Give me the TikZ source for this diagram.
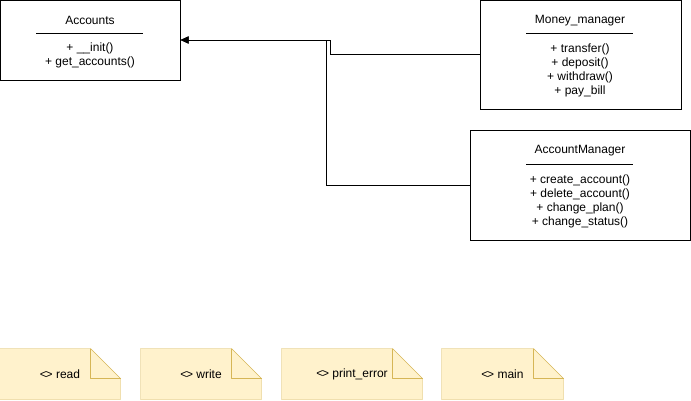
\documentclass[tikz,border=0pt]{standalone}
\usepackage{fontspec}
\setmainfont{Liberation Sans}
\usetikzlibrary{arrows.meta, backgrounds}
\definecolor{notefill}{HTML}{FFF2CC}
\definecolor{noteline}{HTML}{D6B656}
\newcommand{\fnmark}{<\kern-1.2pt>}
\begin{document}
\begin{tikzpicture}[x=1pt, y=-1pt, line width=1pt,
    every node/.style={font=\fontsize{12}{14}\selectfont, inner sep=0pt, align=center},
    classbox/.style={draw, fill=white},
    notebox/.style={minimum height=50pt},
    noteshape/.style={draw=noteline, fill=notefill, line join=round},
    inherit/.style={-{Triangle[length=8pt, width=7pt]}}]
\useasboundingbox (0, 0) rectangle (691, 400);

\node[classbox, minimum width=180pt, minimum height=80pt] (acc) at (90, 40) {};
\node (acct) at (90, 20) {Accounts};
\draw (36, 33.5) -- (143, 33.5);
\node (accm) at (90, 55) {+ \_\_init()\\+ get\_accounts()};

\node[classbox, minimum width=201pt, minimum height=109pt] (mm) at (580.5, 54.5) {};
\node (mmt) at (580, 20.5) {Money\_manager};
\draw (526, 33.5) -- (633, 33.5);
\node (mmm) at (580, 70.5) {+ transfer()\\+ deposit()\\+ withdraw()\\+ pay\_bill};

\node[classbox, minimum width=220pt, minimum height=110pt] (am) at (580, 185) {};
\node (amt) at (580, 150.5) {AccountManager};
\draw (526, 164) -- (633, 164);
\node (amm) at (580, 201) {+ create\_account()\\+ delete\_account()\\+ change\_plan()\\+ change\_status()};

\coordinate (j1) at (330, 40);
\coordinate (j2) at (326, 40);

\draw[inherit] (mm.west) -| (j1) -- (acc.east);
\draw[inherit] (am.west) -| (j2) -- (acc.east);

\node[notebox, minimum width=120pt] (read) at (60, 374) {\fnmark{} read};
\node[notebox, minimum width=120pt] (write) at (201, 374) {\fnmark{} write};
\node[notebox, minimum width=140pt] (perr) at (352, 374) {\fnmark{} print\_error};
\node[notebox, minimum width=121pt] (main) at (502.5, 374) {\fnmark{} main};

\begin{scope}[on background layer]
\foreach \nm in {read, write, perr, main} {
  \draw[noteshape] (\nm.north west) -- ([xshift=-30pt]\nm.north east)
    -- ([yshift=-30pt]\nm.north east) -- (\nm.south east) -- (\nm.south west) -- cycle;
  \draw[noteshape, fill=none] ([xshift=-30pt]\nm.north east)
    -- ([xshift=-30pt, yshift=-30pt]\nm.north east) -- ([yshift=-30pt]\nm.north east);
}
\end{scope}
\end{tikzpicture}
\end{document}
